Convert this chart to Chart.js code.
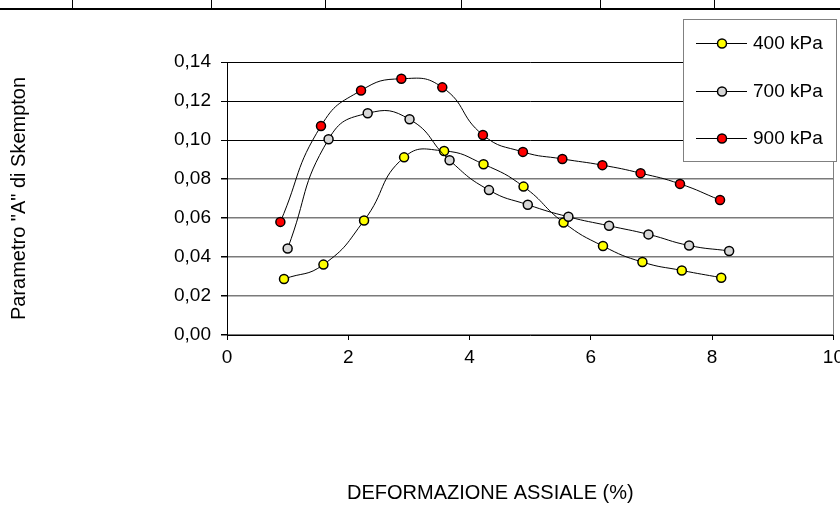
<!DOCTYPE html>
<html>
<head>
<meta charset="utf-8">
<script src="https://cdn.jsdelivr.net/npm/chart.js@4.4.0/dist/chart.umd.min.js"></script>
<style>
  html, body { margin: 0; padding: 0; background: #fff; overflow: hidden; }
  #pagina { position: relative; width: 840px; height: 511px; overflow: hidden; }
  #grafico { position: absolute; left: 0; top: 0; display: block; }
  .riga { position: absolute; background: #000; }
</style>
</head>
<body>
<div id="pagina">
  <canvas id="grafico" width="850" height="511"></canvas>
</div>
<script>
// Dati: deformazione assiale (%) e parametro A di Skempton
const etichetteSerie = ['400 kPa', '700 kPa', '900 kPa'];
const coloriSerie = ['#ffff00', '#d6d6d6', '#ff0000'];

const def400 = [0.94, 1.59, 2.26, 2.92, 3.58, 4.23, 4.89, 5.55, 6.20, 6.85, 7.50, 8.15];
const par400 = [0.0287, 0.0361, 0.0587, 0.0911, 0.0944, 0.0876, 0.0761, 0.0577, 0.0456, 0.0374, 0.0331, 0.0294];

const def700 = [1.00, 1.675, 2.32, 3.01, 3.67, 4.32, 4.96, 5.63, 6.30, 6.95, 7.62, 8.28];
const par700 = [0.0444, 0.1004, 0.1137, 0.1106, 0.0896, 0.0743, 0.0668, 0.0606, 0.0560, 0.0516, 0.0459, 0.0431];

const def900 = [0.88, 1.55, 2.21, 2.875, 3.55, 4.22, 4.88, 5.53, 6.19, 6.82, 7.47, 8.13];
const par900 = [0.0580, 0.1072, 0.1254, 0.1314, 0.1270, 0.1026, 0.0939, 0.0903, 0.0871, 0.0830, 0.0775, 0.0692];

const titoloX = 'DEFORMAZIONE ASSIALE (%)';
const titoloY = 'Parametro "A" di Skempton';

const FONT = '"Liberation Sans", Arial, sans-serif';

// righe della tabella tagliata in alto
const pagina = document.getElementById('pagina');
function riga(x, y, w, h) {
  const d = document.createElement('div');
  d.className = 'riga';
  d.style.left = x + 'px'; d.style.top = y + 'px';
  d.style.width = w + 'px'; d.style.height = h + 'px';
  pagina.appendChild(d);
}
riga(0, 8, 840, 2);
[72, 211, 325, 461, 600, 714].forEach(x => riga(x, 0, 1, 9));

function punti(xs, ys) {
  return xs.map((x, i) => ({ x: x, y: ys[i] }));
}

const serie = [punti(def400, par400), punti(def700, par700), punti(def900, par900)];

const decorazioni = {
  id: 'decorazioni',
  afterDraw(chart) {
    const ctx = chart.ctx;
    const area = chart.chartArea;
    ctx.save();

    // titoli assi
    ctx.fillStyle = '#000';
    ctx.font = '20px ' + FONT;
    ctx.textBaseline = 'middle';
    ctx.textAlign = 'left';
    ctx.fillText(titoloX, 347, 493);

    ctx.save();
    ctx.translate(19, (area.top + area.bottom) / 2);
    ctx.rotate(-Math.PI / 2);
    ctx.textAlign = 'center';
    ctx.fillText(titoloY, 0, 0);
    ctx.restore();

    // legenda
    ctx.fillStyle = '#fff';
    ctx.fillRect(683.5, 19.5, 153, 142);
    ctx.strokeStyle = '#808080';
    ctx.lineWidth = 1;
    ctx.strokeRect(683.5, 19.5, 153, 142);

    const righeY = [43, 91, 138];
    chart.data.datasets.forEach((ds, i) => {
      const y = righeY[i] + 0.5;
      ctx.strokeStyle = '#000';
      ctx.lineWidth = 1;
      ctx.beginPath();
      ctx.moveTo(696, y);
      ctx.lineTo(747, y);
      ctx.stroke();
      ctx.beginPath();
      ctx.arc(722, y, 4.5, 0, Math.PI * 2);
      ctx.fillStyle = ds.pointBackgroundColor;
      ctx.fill();
      ctx.lineWidth = 1.5;
      ctx.stroke();
      ctx.fillStyle = '#000';
      ctx.font = '19px ' + FONT;
      ctx.textAlign = 'left';
      ctx.fillText(ds.label, 753, y);
    });

    ctx.restore();
  }
};

Chart.defaults.color = '#000';
Chart.defaults.font.family = FONT;

new Chart(document.getElementById('grafico'), {
  type: 'scatter',
  data: {
    datasets: serie.map((dati, i) => ({
      label: etichetteSerie[i],
      data: dati,
      showLine: true,
      tension: 0.5,
      borderColor: '#000',
      borderWidth: 1,
      pointBackgroundColor: coloriSerie[i],
      pointBorderColor: '#000',
      pointBorderWidth: 1.5,
      pointRadius: 4.5,
      order: 3 - i
    }))
  },
  options: {
    responsive: false,
    animation: false,
    devicePixelRatio: 1,
    layout: { padding: { top: 62, right: 11, left: 0, bottom: 0 } },
    plugins: {
      legend: { display: false },
      tooltip: { enabled: false }
    },
    scales: {
      x: {
        type: 'linear',
        min: 0,
        max: 10,
        afterFit: s => { s.height = 176; },
        ticks: {
          stepSize: 2,
          padding: 6,
          font: { size: 19 },
          color: '#000'
        },
        grid: {
          color: c => (c.tick && c.tick.value === 10 ? '#808080' : 'rgba(0,0,0,0)'),
          tickColor: '#000',
          tickLength: 5,
          lineWidth: 1
        },
        border: { color: '#000', width: 1 }
      },
      y: {
        min: 0,
        max: 0.14,
        afterFit: s => { s.width = 227; },
        ticks: {
          stepSize: 0.02,
          padding: 10,
          font: { size: 19 },
          color: '#000',
          callback: v => v.toFixed(2).replace('.', ',')
        },
        grid: {
          color: c => (c.tick && c.tick.value > 0.09 ? '#000' : '#7a7a7a'),
          lineWidth: c => (c.tick && c.tick.value > 0.09 ? 1 : 1.5),
          tickColor: '#000',
          tickLength: 6
        },
        border: { color: '#000', width: 1 }
      }
    }
  },
  plugins: [decorazioni]
});
</script>
</body>
</html>
